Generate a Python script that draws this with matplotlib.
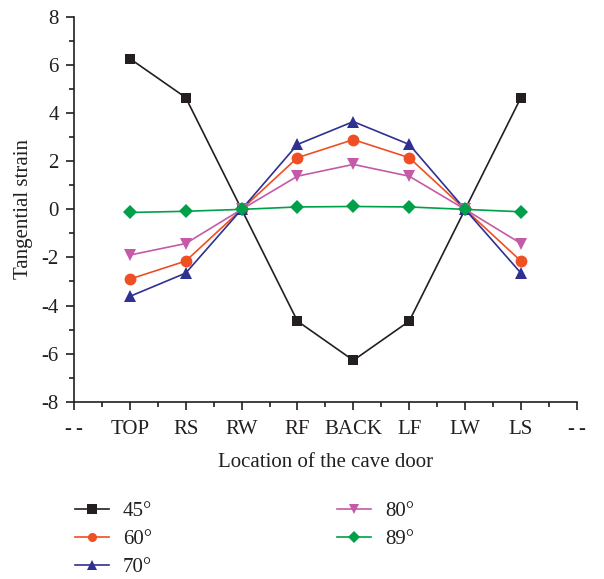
import matplotlib
matplotlib.use("Agg")
import matplotlib.pyplot as plt
from matplotlib.ticker import MultipleLocator, FixedLocator

plt.rcParams['font.family'] = ['Liberation Serif', 'DejaVu Serif']
plt.rcParams['axes.unicode_minus'] = False

locations = ["TOP", "RS", "RW", "RF", "BACK", "LF", "LW", "LS"]
tick_labels = ["-\u2009-"] + locations + ["-\u2009-"]

labels = ["45°", "60°", "70°", "80°", "89°"]
strain_45 = [6.27, 4.65, 0.0, -4.65, -6.28, -4.65, 0.0, 4.65]
strain_60 = [-2.9, -2.15, 0.0, 2.15, 2.9, 2.15, 0.0, -2.15]
strain_70 = [-3.62, -2.65, 0.0, 2.7, 3.65, 2.7, 0.0, -2.65]
strain_80 = [-1.9, -1.42, 0.0, 1.38, 1.87, 1.38, 0.0, -1.42]
strain_89 = [-0.13, -0.08, 0.0, 0.1, 0.12, 0.1, 0.0, -0.1]

series = [strain_45, strain_60, strain_70, strain_80, strain_89]
colors = ["#231f20", "#f04e23", "#2e3192", "#c45aa8", "#00a04a"]
markers = ["s", "o", "^", "v", "D"]
msizes = [7.5, 8.5, 9, 9, 7.5]

fig = plt.figure(figsize=(6.04, 5.79), dpi=100)
ax = fig.add_axes([0.1225, 0.3062, 0.8325, 0.6644])

xpos = list(range(1, len(locations) + 1))
handles = []
for vals, c, m, ms, lab in zip(series, colors, markers, msizes, labels):
    h, = ax.plot(xpos, vals, color=c, marker=m, markersize=ms, linewidth=1.2,
                 markeredgewidth=0, label=lab)
    handles.append(h)

ax.set_xlim(0, 9)
ax.set_ylim(-8, 8)
ax.xaxis.set_major_locator(FixedLocator(range(0, 10)))
ax.set_xticklabels(tick_labels)
ax.xaxis.set_minor_locator(MultipleLocator(0.5))
ax.yaxis.set_major_locator(MultipleLocator(2))
ax.yaxis.set_minor_locator(MultipleLocator(1))

for side in ("top", "right"):
    ax.spines[side].set_visible(False)
for side in ("left", "bottom"):
    ax.spines[side].set_linewidth(1.2)
    ax.spines[side].set_color("#231f20")

fs = 15
ax.tick_params(which="major", direction="out", length=6, width=1.2,
               labelsize=fs, colors="#231f20", pad=5)
ax.tick_params(axis="x", which="major", pad=7)
ax.tick_params(which="minor", direction="out", length=3.5, width=1.2,
               colors="#231f20")

ax.set_ylabel("Tangential strain", fontsize=fs, color="#231f20", labelpad=6)
ax.set_xlabel("Location of the cave door", fontsize=fs, color="#231f20",
              labelpad=10)

leg = fig.legend(handles, labels,
                 loc="upper left", bbox_to_anchor=(0.110, 0.148),
                 ncol=2, frameon=False, fontsize=fs, handlelength=1.63,
                 handletextpad=0.67, columnspacing=8.9, labelspacing=0.40,
                 borderaxespad=0)
for t in leg.get_texts():
    t.set_color("#231f20")
for lh in leg.legend_handles:
    lh.set_markersize(6.5)

fig.savefig("out.png", dpi=100)
